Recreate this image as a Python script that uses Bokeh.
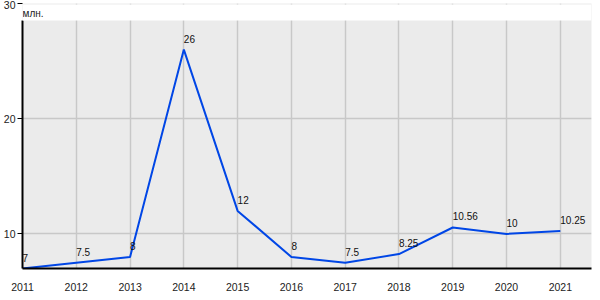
from bokeh.plotting import figure
from bokeh.models import FixedTicker, BoxAnnotation, Label, ColumnDataSource, Range1d
from bokeh.core.properties import value
from bokeh.embed import file_html
from bokeh.resources import INLINE

years = [2011, 2012, 2013, 2014, 2015, 2016, 2017, 2018, 2019, 2020, 2021]
values = [7, 7.5, 8, 26, 12, 8, 7.5, 8.25, 10.56, 10, 10.25]
value_labels = ["7", "7.5", "8", "26", "12", "8", "7.5", "8.25", "10.56", "10", "10.25"]
y_ticks = [10, 20, 30]
unit_label = "млн."

FONT = "Liberation Sans"

p = figure(width=600, height=300, output_backend="svg", toolbar_location=None,
           x_range=Range1d(2011, 2021.58), y_range=Range1d(7, 30),
           min_border_left=20, min_border_right=9, min_border_top=3, min_border_bottom=32)
p.outline_line_color = None
p.background_fill_color = "#EBEBEB"
p.border_fill_color = "white"

# white band behind unit label (covers grid lines there)
p.add_layout(BoxAnnotation(bottom=28.53, top=29.92, fill_color="white", fill_alpha=1.0,
                           line_color=None, line_alpha=0, level="overlay"))

src = ColumnDataSource(dict(x=years, y=values, t=value_labels))
p.line("x", "y", source=src, line_color="#0046E6", line_width=2)
p.text("x", "y", text="t", source=src, text_align="left", text_baseline="alphabetic",
       y_offset=-11, text_font_size="10px", text_color="#111111", text_font=value(FONT))

p.add_layout(Label(x=2011, y=29.15, text=unit_label, text_baseline="middle", text_align="left",
                   text_font_size="10px", text_color="#222222", text_font=FONT, x_offset=0,
                   level="overlay"))

p.xaxis.ticker = FixedTicker(ticks=years)
p.yaxis.ticker = FixedTicker(ticks=y_ticks)
p.xgrid.ticker = FixedTicker(ticks=years)
p.ygrid.ticker = FixedTicker(ticks=y_ticks)
p.xgrid.grid_line_color = "#C8C8C8"
p.ygrid.grid_line_color = "#C8C8C8"
p.xgrid.grid_line_width = 1.5
p.ygrid.grid_line_width = 1.5

for ax in (p.xaxis, p.yaxis):
    ax.axis_line_color = "black"
    ax.axis_line_width = 2
    ax.minor_tick_line_color = None
    ax.major_label_text_font = FONT
    ax.major_label_text_font_size = "10.5px"
    ax.major_label_text_color = "#222222"

p.xaxis.major_tick_line_color = None
p.xaxis.major_label_text_align = "left"
p.xaxis.major_label_standoff = 8
p.yaxis.major_tick_out = 5
p.yaxis.major_tick_in = 0
p.yaxis.major_tick_line_color = "black"
p.yaxis.major_label_standoff = 2
p.yaxis.major_label_text_baseline = "bottom"
p.yaxis.bounds = (7, 28.53)

open("out.html", "w").write(file_html(p, INLINE))
